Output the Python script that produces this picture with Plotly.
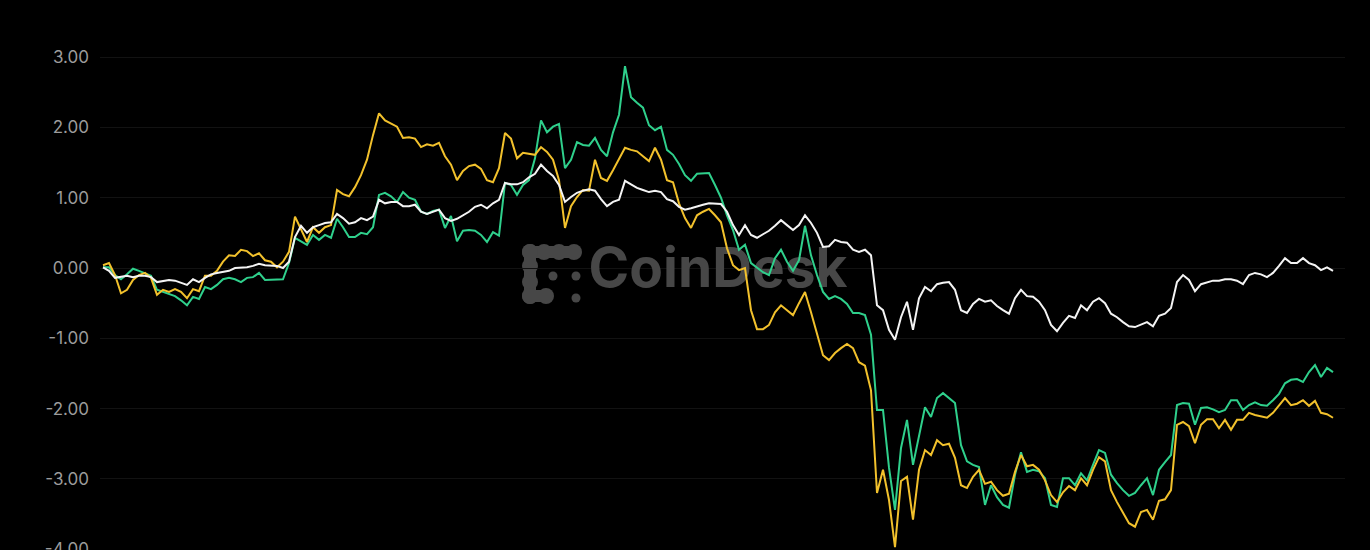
import plotly.graph_objects as go

# ---- data ----
steps = list(range(206))

white_vals = [0.01,-0.04,-0.14,-0.13,-0.11,-0.13,-0.11,-0.11,-0.13,-0.2,
 -0.18,-0.17,-0.18,-0.21,-0.24,-0.16,-0.2,-0.14,-0.09,-0.07,
 -0.06,-0.04,0.0,0.0,0.01,0.03,0.06,0.04,0.03,0.03,
 0.0,0.09,0.44,0.6,0.5,0.58,0.61,0.64,0.65,0.77,
 0.71,0.63,0.65,0.71,0.68,0.73,0.97,0.92,0.94,0.94,
 0.88,0.88,0.9,0.8,0.77,0.8,0.83,0.71,0.67,0.7,
 0.75,0.8,0.87,0.9,0.85,0.92,0.97,1.21,1.19,1.19,
 1.22,1.29,1.34,1.47,1.38,1.31,1.18,0.94,1.01,1.07,
 1.1,1.12,1.1,0.98,0.88,0.94,0.97,1.24,1.19,1.14,
 1.11,1.08,1.1,1.08,0.98,0.95,0.87,0.83,0.85,0.88,
 0.9,0.92,0.92,0.91,0.8,0.61,0.47,0.61,0.47,0.43,
 0.48,0.53,0.6,0.68,0.61,0.54,0.61,0.75,0.64,0.5,
 0.3,0.31,0.4,0.37,0.36,0.26,0.23,0.26,0.18,-0.53,
 -0.6,-0.88,-1.02,-0.7,-0.48,-0.88,-0.43,-0.27,-0.33,-0.23,
 -0.21,-0.2,-0.31,-0.6,-0.64,-0.51,-0.44,-0.48,-0.46,-0.54,
 -0.6,-0.65,-0.43,-0.31,-0.4,-0.41,-0.48,-0.6,-0.81,-0.9,
 -0.78,-0.68,-0.71,-0.53,-0.6,-0.48,-0.43,-0.5,-0.65,-0.7,
 -0.77,-0.83,-0.84,-0.81,-0.77,-0.83,-0.68,-0.65,-0.57,-0.2,
 -0.1,-0.17,-0.33,-0.23,-0.2,-0.18,-0.18,-0.16,-0.16,-0.18,
 -0.23,-0.1,-0.07,-0.09,-0.13,-0.07,0.03,0.14,0.07,0.07,
 0.14,0.07,0.04,-0.03,0.01,-0.04]

yellow_vals = [0.04,0.07,-0.1,-0.36,-0.31,-0.17,-0.1,-0.07,-0.14,-0.38,
 -0.31,-0.34,-0.3,-0.34,-0.43,-0.3,-0.33,-0.11,-0.11,-0.04,
 0.09,0.18,0.17,0.26,0.24,0.17,0.21,0.11,0.09,0.01,
 0.09,0.23,0.73,0.54,0.37,0.58,0.5,0.58,0.61,1.11,
 1.05,1.02,1.15,1.32,1.54,1.89,2.2,2.1,2.05,2.01,
 1.85,1.86,1.84,1.72,1.76,1.74,1.78,1.59,1.47,1.25,
 1.38,1.45,1.47,1.41,1.25,1.22,1.42,1.92,1.84,1.56,
 1.64,1.62,1.61,1.72,1.65,1.54,1.25,0.57,0.88,1.01,
 1.11,1.1,1.54,1.28,1.24,1.39,1.54,1.71,1.68,1.66,
 1.59,1.52,1.71,1.54,1.25,1.22,0.92,0.71,0.57,0.75,
 0.8,0.84,0.75,0.65,0.28,0.04,-0.03,0.0,-0.6,-0.87,
 -0.87,-0.81,-0.63,-0.53,-0.6,-0.67,-0.5,-0.34,-0.63,-0.95,
 -1.24,-1.31,-1.21,-1.14,-1.08,-1.14,-1.34,-1.39,-1.74,-3.2,
 -2.87,-3.3,-3.97,-3.03,-2.97,-3.58,-2.87,-2.59,-2.66,-2.45,
 -2.52,-2.5,-2.7,-3.09,-3.13,-2.97,-2.87,-3.07,-3.04,-3.16,
 -3.24,-3.21,-2.9,-2.66,-2.82,-2.8,-2.87,-3.02,-3.23,-3.33,
 -3.19,-3.1,-3.16,-2.99,-3.09,-2.87,-2.69,-2.75,-3.16,-3.33,
 -3.47,-3.63,-3.68,-3.47,-3.44,-3.58,-3.31,-3.29,-3.16,-2.23,
 -2.19,-2.25,-2.49,-2.23,-2.15,-2.15,-2.28,-2.16,-2.3,-2.16,
 -2.16,-2.06,-2.09,-2.11,-2.13,-2.06,-1.96,-1.85,-1.95,-1.93,
 -1.88,-1.96,-1.89,-2.06,-2.08,-2.13]

green_vals = [0.01,0.01,-0.1,-0.16,-0.09,-0.01,-0.04,-0.07,-0.11,-0.31,
 -0.34,-0.37,-0.4,-0.46,-0.53,-0.41,-0.44,-0.27,-0.3,-0.24,
 -0.16,-0.14,-0.16,-0.2,-0.14,-0.13,-0.07,-0.17,-0.17,-0.16,
 -0.16,0.07,0.43,0.38,0.33,0.47,0.4,0.47,0.43,0.7,
 0.58,0.44,0.44,0.5,0.48,0.58,1.04,1.07,1.02,0.94,
 1.08,1.0,0.97,0.8,0.77,0.81,0.83,0.57,0.74,0.38,
 0.53,0.54,0.53,0.47,0.37,0.51,0.46,1.21,1.18,1.04,
 1.18,1.25,1.56,2.1,1.93,2.01,2.05,1.42,1.54,1.79,
 1.75,1.74,1.85,1.68,1.59,1.93,2.18,2.87,2.43,2.35,
 2.28,2.03,1.96,2.01,1.68,1.61,1.48,1.32,1.24,1.34,
 1.35,1.35,1.18,1.0,0.75,0.54,0.26,0.33,0.07,0.01,
 -0.06,-0.1,0.14,0.26,0.09,-0.04,0.11,0.6,0.18,-0.1,
 -0.34,-0.44,-0.4,-0.44,-0.51,-0.64,-0.64,-0.67,-0.95,-2.02,
 -2.02,-2.84,-3.44,-2.56,-2.16,-2.8,-2.38,-1.98,-2.12,-1.85,
 -1.78,-1.85,-1.92,-2.52,-2.75,-2.8,-2.83,-3.37,-3.09,-3.26,
 -3.37,-3.41,-2.94,-2.62,-2.9,-2.87,-2.89,-2.99,-3.37,-3.4,
 -2.99,-2.99,-3.09,-2.92,-3.02,-2.8,-2.59,-2.63,-2.94,-3.06,
 -3.16,-3.24,-3.2,-3.09,-2.99,-3.23,-2.87,-2.76,-2.66,-1.95,
 -1.92,-1.93,-2.23,-1.99,-1.98,-2.01,-2.05,-2.02,-1.88,-1.88,
 -2.02,-1.95,-1.91,-1.95,-1.96,-1.88,-1.79,-1.64,-1.59,-1.58,
 -1.62,-1.48,-1.38,-1.55,-1.42,-1.48]

y_ticks = [-4, -3, -2, -1, 0, 1, 2, 3]
y_tick_text = ["-4.00", "-3.00", "-2.00", "-1.00", "0.00", "1.00", "2.00", "3.00"]

# ---- figure ----
W, H = 1370, 550
ML, MR, MT, MB = 100, 25, 0, 0
PW = W - ML - MR
PH = H - MT - MB


def px(xp):
    return (xp - ML) / PW


def py(yp):
    return (H - MB - yp) / PH


WM = "#474747"

fig = go.Figure()

# watermark text (first trace, so it sits underneath the lines)
fig.add_trace(go.Scatter(
    x=[102.5], y=[-0.07], mode="text", text=["<b>CoinDesk</b>"],
    textfont=dict(family="Inter, Roboto, sans-serif", size=55, color=WM),
    hoverinfo="skip", showlegend=False, cliponaxis=False,
))

fig.add_trace(go.Scatter(x=steps, y=green_vals, mode="lines",
                         line=dict(color="#2FD08C", width=2), showlegend=False))
fig.add_trace(go.Scatter(x=steps, y=yellow_vals, mode="lines",
                         line=dict(color="#F2C12C", width=2), showlegend=False))
fig.add_trace(go.Scatter(x=steps, y=white_vals, mode="lines",
                         line=dict(color="#F4F4F4", width=2), showlegend=False))

# watermark logo (blobs), drawn below the traces
shapes = []


def blob(cx, cy, r):
    shapes.append(dict(type="circle", xref="paper", yref="paper", layer="below",
                       x0=px(cx - r), x1=px(cx + r), y0=py(cy + r), y1=py(cy - r),
                       fillcolor=WM, line=dict(width=0)))


def bar(x0, y0, x1, y1):
    shapes.append(dict(type="rect", xref="paper", yref="paper", layer="below",
                       x0=px(x0), x1=px(x1), y0=py(y1), y1=py(y0),
                       fillcolor=WM, line=dict(width=0)))


for cx in (530, 544, 559, 574):
    blob(cx, 252, 8)
bar(530, 246, 574, 258)
for cy in (252, 266, 282, 296):
    blob(530, cy, 8)
bar(524, 252, 536, 296)
for cx in (530, 546):
    blob(cx, 296, 8)
bar(530, 290, 546, 302)
blob(553, 276, 4.5)
blob(576, 276, 4.5)
blob(576, 298, 4.5)

fig.update_layout(
    width=W, height=H,
    margin=dict(l=ML, r=MR, t=MT, b=MB, autoexpand=False),
    paper_bgcolor="#000000", plot_bgcolor="#000000",
    shapes=shapes,
    hovermode=False,
    xaxis=dict(range=[-0.5, 207], showticklabels=False, showgrid=False,
               zeroline=False, showline=False, ticks="", automargin=False),
    yaxis=dict(range=[-4.011, 3.812], tickvals=y_ticks, ticktext=y_tick_text,
               showgrid=True, gridcolor="#121212", gridwidth=1,
               zeroline=False, showline=False, ticks="", automargin=False,
               ticklabelstandoff=10, ticklabeloverflow="allow",
               tickfont=dict(family="Inter, Roboto, sans-serif", size=17, color="#9c9c9c")),
    font=dict(family="Inter, sans-serif"),
)

fig.write_html(
    "out.html",
    config={"displayModeBar": False},
    post_script="document.body.style.margin='0';document.body.style.background='#000';",
)
